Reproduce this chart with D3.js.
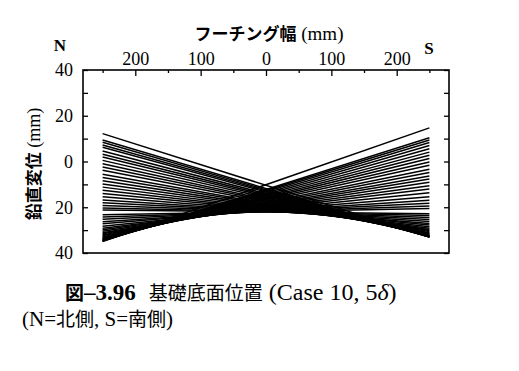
<!DOCTYPE html>
<html>
<head>
<meta charset="utf-8">
<script src="https://cdn.jsdelivr.net/npm/d3@7"></script>
<style>
  body { margin: 0; background: #fff; }
  svg text { fill: #000; }
</style>
</head>
<body>
<div id="chart"></div>
<script>
// footing edges (mm), N side = left, S side = right
var footingEdges = [-250, 250];

// vertical displacement (mm, down positive) at N edge and S edge, one pair per line
// N side lifted
var northUpN = [-12.2, -9.4, -8.4, -7.2, -6.2, -4.6, -3.2, -2.0, -0.5, 1.0, 2.4, 3.8, 5.6,
                7.0, 8.4, 9.8, 11.2, 12.6, 14.0, 15.4, 16.8, 18.0, 19.2, 20.3, 21.2];
var northUpS = [33.0, 33.0, 33.0, 32.9, 32.9, 32.8, 32.6, 32.5, 32.3, 32.1, 31.8, 31.5, 31.1,
                30.6, 30.2, 29.7, 29.2, 28.5, 27.8, 27.1, 26.2, 25.4, 24.5, 23.6, 22.8];
// S side lifted
var southUpN = [35.0, 34.8, 34.7, 34.6, 34.5, 34.3, 34.1, 33.9, 33.6, 33.3, 33.0, 32.5, 32.1,
                31.6, 31.1, 30.5, 29.8, 29.2, 28.3, 27.2, 26.3, 25.2, 24.3, 23.3];
var southUpS = [-14.7, -10.4, -9.4, -8.3, -7.0, -5.6, -4.1, -2.7, -1.3, 0.2, 1.6, 3.4, 4.8,
                6.3, 7.7, 9.1, 10.6, 12.0, 13.7, 15.4, 16.9, 18.3, 19.5, 20.6];

var xMajorTicks = [-200, -100, 0, 100, 200];
var xMinorTicks = [-250, -150, -50, 50, 150, 250];
var yTicks = [-40, -30, -20, -10, 0, 10, 20, 30, 40];
var yLabelTicks = [-40, -20, 0, 20, 40];

function draw() {
    var width = 519, height = 371;
    var pLeft = 83, pRight = 449, pTop = 70, pBottom = 253;

    var svg = d3.select("#chart")
        .append("svg")
        .attr("width", width)
        .attr("height", height);

    var x = d3.scaleLinear().domain([-280, 280]).range([pLeft, pRight]);
    var y = d3.scaleLinear().domain([-40, 40]).range([pTop, pBottom]);

    var serif = "'Liberation Serif', 'Times New Roman', serif";
    var gothic = "'Noto Sans CJK JP', sans-serif";

    // build line list
    var lines = [];
    northUpN.forEach(function (v, i) { lines.push({ n: v, s: northUpS[i] }); });
    southUpN.forEach(function (v, i) { lines.push({ n: v, s: southUpS[i] }); });

    svg.append("g")
        .selectAll("line")
        .data(lines)
        .enter()
        .append("line")
        .attr("x1", x(footingEdges[0]))
        .attr("x2", x(footingEdges[1]))
        .attr("y1", function (d) { return y(d.n); })
        .attr("y2", function (d) { return y(d.s); })
        .style("stroke", "#000")
        .style("stroke-width", 1.5);

    // frame
    svg.append("rect")
        .attr("x", pLeft).attr("y", pTop)
        .attr("width", pRight - pLeft).attr("height", pBottom - pTop)
        .style("fill", "none")
        .style("stroke", "#000")
        .style("stroke-width", 1.6);

    var fmt = function (d) { return Math.abs(d); };

    // top axis
    svg.append("g")
        .attr("transform", "translate(0," + pTop + ")")
        .call(d3.axisTop(x).tickValues(xMajorTicks).tickSize(-6).tickPadding(5).tickFormat(fmt));
    svg.append("g")
        .attr("transform", "translate(0," + pTop + ")")
        .call(d3.axisTop(x).tickValues(xMinorTicks).tickSize(-3).tickFormat(""));

    // left axis
    svg.append("g")
        .attr("transform", "translate(" + pLeft + ",0)")
        .call(d3.axisLeft(y).tickValues(yTicks).tickSize(-5).tickFormat(""));
    svg.append("g")
        .attr("transform", "translate(" + pLeft + ",0)")
        .call(d3.axisLeft(y).tickValues(yLabelTicks).tickSize(0).tickPadding(10).tickFormat(fmt));

    // right axis
    svg.append("g")
        .attr("transform", "translate(" + pRight + ",0)")
        .call(d3.axisRight(y).tickValues(yTicks).tickSize(-5).tickFormat(""));

    svg.selectAll(".domain").remove();
    svg.selectAll(".tick line").style("stroke", "#000").style("stroke-width", 1.3);
    svg.selectAll(".tick text")
        .attr("font-family", null)
        .style("font-family", serif)
        .style("font-size", "18px")
        .style("fill", "#000");

    // N / S
    svg.append("text")
        .attr("x", 60).attr("y", 51)
        .attr("text-anchor", "middle")
        .style("font-family", serif).style("font-size", "17px").style("font-weight", "bold")
        .text("N");
    svg.append("text")
        .attr("x", 429).attr("y", 54)
        .attr("text-anchor", "middle")
        .style("font-family", serif).style("font-size", "17px").style("font-weight", "bold")
        .text("S");

    // x title
    var xt = svg.append("text")
        .attr("x", 269).attr("y", 40)
        .attr("text-anchor", "middle");
    xt.append("tspan").style("font-family", gothic).style("font-weight", "bold")
        .style("font-size", "17px").text("フーチング幅");
    xt.append("tspan").style("font-family", serif).style("font-size", "19px").text(" (mm)");

    // y title
    var yt = svg.append("text")
        .attr("transform", "translate(40,164) rotate(-90)")
        .attr("text-anchor", "middle");
    yt.append("tspan").style("font-family", gothic).style("font-weight", "bold")
        .style("font-size", "17px").text("鉛直変位");
    yt.append("tspan").style("font-family", serif).style("font-size", "18px").text(" (mm)");

    // caption
    var cap = svg.append("text")
        .attr("x", 65).attr("y", 300);
    cap.append("tspan").style("font-family", gothic).style("font-weight", "bold")
        .style("font-size", "19px").text("図");
    cap.append("tspan").style("font-family", serif).style("font-weight", "bold")
        .style("font-size", "23px").text("–3.96");
    cap.append("tspan").style("font-family", gothic).style("font-size", "19px")
        .attr("dx", 13).text("基礎底面位置");
    cap.append("tspan").style("font-family", serif).style("font-size", "24px").text(" (Case 10, 5");
    cap.append("tspan").style("font-family", serif).style("font-size", "24px")
        .style("font-style", "italic").text("δ");
    cap.append("tspan").style("font-family", serif).style("font-size", "24px").text(")");

    var sub = svg.append("text")
        .attr("x", 22).attr("y", 326);
    sub.append("tspan").style("font-family", serif).style("font-size", "21px").text("(N=");
    sub.append("tspan").style("font-family", gothic).style("font-size", "19px").text("北側");
    sub.append("tspan").style("font-family", serif).style("font-size", "21px").text(", S=");
    sub.append("tspan").style("font-family", gothic).style("font-size", "19px").text("南側");
    sub.append("tspan").style("font-family", serif).style("font-size", "21px").text(")");
}

draw();
</script>
</body>
</html>
